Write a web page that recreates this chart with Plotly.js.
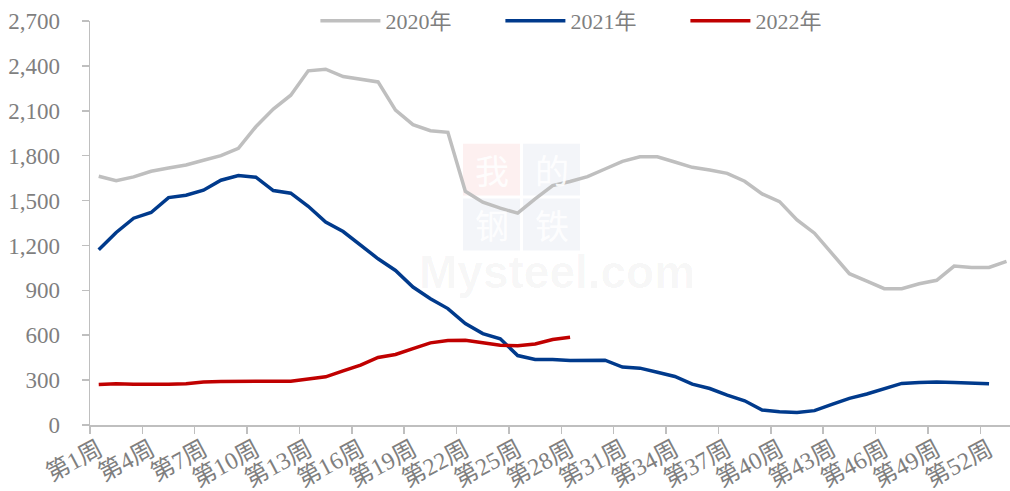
<!DOCTYPE html>
<html>
<head>
<meta charset="utf-8">
<script src="https://cdn.plot.ly/plotly-3.0.1.min.js"></script>
<style>
  html, body { margin: 0; padding: 0; background: #ffffff; }
  #chart { width: 1010px; height: 491px; }
</style>
</head>
<body>
<div id="chart"></div>
<script>
// Week categories (x axis)
var weeks = ["第1周","第2周","第3周","第4周","第5周","第6周","第7周","第8周","第9周","第10周",
  "第11周","第12周","第13周","第14周","第15周","第16周","第17周","第18周","第19周","第20周",
  "第21周","第22周","第23周","第24周","第25周","第26周","第27周","第28周","第29周","第30周",
  "第31周","第32周","第33周","第34周","第35周","第36周","第37周","第38周","第39周","第40周",
  "第41周","第42周","第43周","第44周","第45周","第46周","第47周","第48周","第49周","第50周",
  "第51周","第52周","第53周"];

// Series values
var series2020 = [1662,1633,1658,1696,1718,1738,1769,1800,1849,1993,
  2111,2204,2367,2378,2329,2311,2293,2104,2007,1967,
  1956,1562,1489,1449,1416,1511,1600,1627,1660,1711,
  1762,1793,1793,1758,1722,1704,1682,1629,1544,1493,
  1371,1282,1144,1011,962,911,911,944,967,1062,
  1053,1053,1093];
var series2021 = [1171,1287,1382,1420,1520,1536,1569,1636,1667,1656,
  1567,1549,1462,1356,1293,1200,1111,1033,922,844,
  778,678,611,576,464,438,438,431,433,433,
  387,380,353,324,273,244,200,162,100,89,
  84,96,138,178,207,244,278,284,287,284,
  280,276];
var series2022 = [271,276,273,271,273,276,287,291,293,293,
  293,293,307,322,362,400,451,471,511,549,
  564,567,549,533,529,542,571,587];

var seriesNames = ["2020年","2021年","2022年"];
var seriesColors = ["#bfbfbf","#003a8c","#c00000"];

// Axis tick labels
var yTickVals = [0,300,600,900,1200,1500,1800,2100,2400,2700];
var yTickText = ["0","300","600","900","1,200","1,500","1,800","2,100","2,400","2,700"];

var allSeries = [series2020, series2021, series2022];
var traces = allSeries.map(function (vals, i) {
  return {
    type: "scatter",
    mode: "lines",
    name: seriesNames[i],
    x: weeks.slice(0, vals.length),
    y: vals,
    line: { color: seriesColors[i], width: 3.5 },
    hoverinfo: "x+y+name"
  };
});

var gray = "#7f7f7f";
var axisGray = "#bfbfbf";
var fontFam = "'Liberation Serif', 'Times New Roman', 'Noto Sans CJK SC', serif";

function px(x) { return (x - 90) / 920; }
function py(y) { return (425 - y) / 405; }

var wmBoxes = [
  { x0: 463, x1: 520, y0: 143, y1: 195, fill: "rgba(230,40,40,0.07)", ch: "我" },
  { x0: 523, x1: 580, y0: 143, y1: 195, fill: "rgba(20,50,140,0.05)", ch: "的" },
  { x0: 463, x1: 520, y0: 198, y1: 250, fill: "rgba(20,50,140,0.05)", ch: "钢" },
  { x0: 523, x1: 580, y0: 198, y1: 250, fill: "rgba(20,50,140,0.05)", ch: "铁" }
];

var shapes = wmBoxes.map(function (b) {
  return { type: "rect", xref: "paper", yref: "paper", layer: "below",
    x0: px(b.x0), x1: px(b.x1), y0: py(b.y1), y1: py(b.y0),
    fillcolor: b.fill, line: { width: 0 } };
});
var annotations = wmBoxes.map(function (b) {
  return { xref: "paper", yref: "paper", x: px((b.x0 + b.x1) / 2), y: py((b.y0 + b.y1) / 2),
    showarrow: false, text: b.ch, xanchor: "center", yanchor: "middle", borderpad: 0,
    font: { family: "'Noto Sans CJK SC', sans-serif", size: 34, color: "rgba(255,255,255,0.9)" } };
});
annotations.push({ xref: "paper", yref: "paper", x: px(557), y: py(272), showarrow: false, borderpad: 0,
  text: "<b>Mysteel.com</b>", font: { family: "'Liberation Sans', Arial, sans-serif", size: 46, color: "rgba(0,0,0,0.04)" },
  xanchor: "center", yanchor: "middle" });

var layout = {
  width: 1010,
  height: 491,
  margin: { l: 90, r: 0, t: 20, b: 66 },
  paper_bgcolor: "#ffffff",
  plot_bgcolor: "#ffffff",
  font: { family: fontFam, color: gray, size: 22 },
  showlegend: true,
  legend: {
    orientation: "h",
    x: 0.245, xanchor: "left",
    y: 1.0, yanchor: "middle",
    font: { family: fontFam, size: 22, color: gray },
    itemwidth: 60,
    entrywidth: 110,
    entrywidthmode: "pixels",
    bgcolor: "rgba(0,0,0,0)",
    traceorder: "normal"
  },
  xaxis: {
    type: "category",
    categoryorder: "array",
    categoryarray: weeks,
    range: [-0.5, 52.2],
    tickmode: "linear",
    tick0: 0,
    dtick: 3,
    tickson: "boundaries",
    ticks: "outside",
    ticklen: 7,
    tickwidth: 1.5,
    tickcolor: axisGray,
    tickangle: -28,
    tickfont: { family: fontFam, size: 24, color: gray },
    showline: true,
    linecolor: axisGray,
    linewidth: 1.5,
    showgrid: false,
    zeroline: false,
    fixedrange: true
  },
  yaxis: {
    range: [0, 2700],
    tickmode: "array",
    tickvals: yTickVals,
    ticktext: yTickText,
    ticks: "outside",
    ticklen: 7,
    tickwidth: 1.5,
    tickcolor: axisGray,
    ticklabelstandoff: 17,
    tickfont: { family: fontFam, size: 23, color: gray },
    showline: true,
    linecolor: axisGray,
    linewidth: 1.5,
    showgrid: false,
    zeroline: false,
    fixedrange: true
  },
  shapes: shapes,
  annotations: annotations
};

Plotly.newPlot("chart", traces, layout, { displayModeBar: false, staticPlot: true });
</script>
</body>
</html>
